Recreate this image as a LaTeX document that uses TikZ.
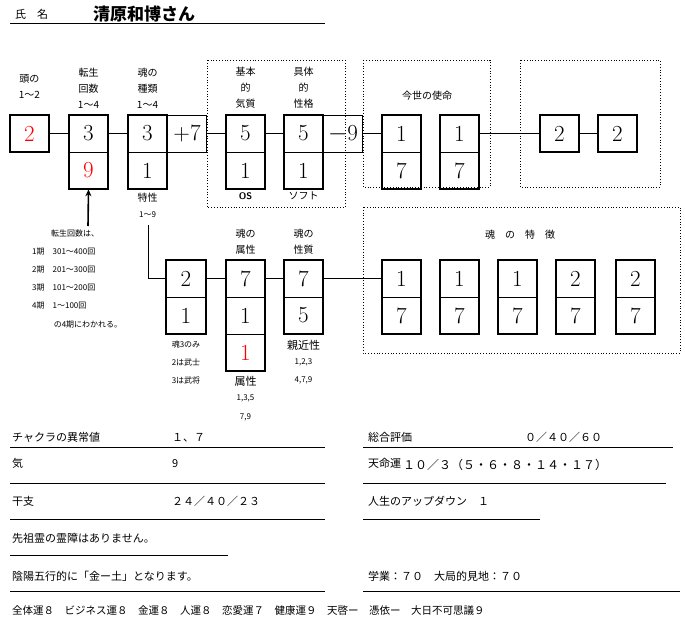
\documentclass[tikz,border=0pt]{standalone}
\usepackage{fontspec}
\newfontfamily\jp{Noto Sans CJK JP}
\usetikzlibrary{arrows.meta}
\begin{document}
\begin{tikzpicture}[x=1pt,y=-1pt,
 cell/.style={draw,line width=0.6pt,minimum width=39pt,minimum height=37pt,inner sep=0pt,font=\fontsize{23}{23}\selectfont},
 outer/.style={line width=1.8pt},
 lbl/.style={font=\jp\fontsize{10}{16}\selectfont,align=center,inner sep=0pt},
 sm/.style={font=\jp\fontsize{8}{10}\selectfont,inner sep=0pt},
 dot/.style={dotted,line width=0.8pt},
 txt/.style={font=\jp\fontsize{11}{12}\selectfont,anchor=base west,inner sep=0pt},
 rule/.style={line width=1pt}]
\useasboundingbox (0,0) rectangle (685,623);
% title
\node[txt] (t1) at (15,19) {氏\quad 名};
\node[txt,font=\jp\bfseries\fontsize{17}{18}\selectfont] (t2) at (93,21) {清原和博さん};
\draw[rule] (10,24) -- (325,24);
% dotted frames
\draw[dot] (207,60) rectangle (345,207);
\draw[dot] (363,60) rectangle (490,187);
\draw[dot] (520,60) rectangle (660,187);
\draw[dot] (363,207) rectangle (680,353);
% row 1
\node[cell] (a1) at (29.5,133.5) {\textcolor{red}{2}};
\node[cell] (b1) at (88.5,133.5) {3};
\node[cell] (b2) at (88.5,170.5) {\textcolor{red}{9}};
\node[cell] (c1) at (147.5,133.5) {3};
\node[cell] (c2) at (147.5,170.5) {1};
\node[cell] (p7) at (187,133.5) {+7};
\node[cell] (d1) at (245.5,133.5) {5};
\node[cell] (d2) at (245.5,170.5) {1};
\node[cell] (e1) at (303.5,133.5) {5};
\node[cell] (e2) at (303.5,170.5) {1};
\node[cell] (m9) at (343,133.5) {$-$9};
\node[cell] (f1) at (401.5,133.5) {1};
\node[cell] (f2) at (401.5,170.5) {7};
\node[cell] (g1) at (459.5,133.5) {1};
\node[cell] (g2) at (459.5,170.5) {7};
\node[cell] (h1) at (559.5,133.5) {2};
\node[cell] (i1) at (617.5,133.5) {2};
\foreach \u/\l in {a1/a1,b1/b2,c1/c2,d1/d2,e1/e2,f1/f2,g1/g2,h1/h1,i1/i1}
  \draw[outer] (\u.north west) rectangle (\l.south east);
\draw (a1) -- (b1); \draw (b1) -- (c1); \draw (p7) -- (d1); \draw (d1) -- (e1);
\draw (m9) -- (f1); \draw (g1) -- (h1); \draw (h1) -- (i1);
% row 2
\node[cell] (r1) at (186,278.5) {2};
\node[cell] (r2) at (186,315.5) {1};
\node[cell] (s1) at (245.5,278.5) {7};
\node[cell] (s2) at (245.5,315.5) {1};
\node[cell] (s3) at (245.5,352.5) {\textcolor{red}{1}};
\node[cell] (q1) at (303.5,278.5) {7};
\node[cell] (q2) at (303.5,315.5) {5};
\foreach \n/\x/\a/\b in {u/401.5/1/7,v/459.5/1/7,w/517.5/1/7,y/575.5/2/7,z/635.5/2/7}{
  \node[cell] (\n1) at (\x,278.5) {\a};
  \node[cell] (\n2) at (\x,315.5) {\b};
  \draw[outer] (\n1.north west) rectangle (\n2.south east);}
\foreach \u/\l in {r1/r2,s1/s3,q1/q2}
  \draw[outer] (\u.north west) rectangle (\l.south east);
\coordinate (k) at (148,225);
\draw (k) |- (r1); \draw (r1) -- (s1); \draw (s1) -- (q1); \draw (q1) -- (u1);
\coordinate (ar) at (88,226);
\draw[line width=1.6pt,-{Stealth[length=7pt,width=6pt]}] (ar) -- (b2.south);
% labels row 1
\node[lbl] (l1) at (29.5,87) {頭の\\1〜2};
\node[lbl] (l2) at (88.5,88) {転生\\回数\\1〜4};
\node[lbl] (l3) at (147.5,88) {魂の\\種類\\1〜4};
\node[lbl] (l4) at (245.5,88) {基本\\的\\気質};
\node[lbl] (l5) at (303.5,88) {具体\\的\\性格};
\node[lbl] (l6) at (427,96) {今世の使命};
\node[lbl] (l7) at (147.5,205) {特性\\{\fontsize{8}{10}\selectfont 1〜9}};
\node[font=\sffamily\bfseries\fontsize{9.5}{10}\selectfont,inner sep=0pt] (os) at (245.5,196) {OS};
\node[lbl] (sf) at (303.5,196) {ソフト};
% row 2 labels
\node[lbl] (l8) at (245.5,242) {魂の\\属性};
\node[lbl] (l9) at (303.5,242) {魂の\\性質};
\node[lbl] (l10) at (520,235) {魂\quad の\quad 特\quad 徴};
\node[sm,align=center,font=\jp\fontsize{8}{18}\selectfont] (l11) at (186,362) {魂3のみ\\2は武士\\3は武将};
\node[lbl,font=\jp\fontsize{11}{16}\selectfont] (l12) at (245.5,381) {属性};
\node[sm,align=center,font=\jp\fontsize{8}{19}\selectfont] (l13) at (245.5,408) {1,3,5\\7,9};
\node[lbl,font=\jp\fontsize{11}{16}\selectfont] (l14) at (303.5,345) {親近性};
\node[sm,align=center,font=\jp\fontsize{8}{18}\selectfont] (l15) at (303.5,371) {1,2,3\\4,7,9};
% reincarnation note
\node[sm] (n0) at (75,233) {転生回数は、};
\node[sm,anchor=west] (n1) at (32,252) {1期\quad 301〜400回};
\node[sm,anchor=west] (n2) at (32,270) {2期\quad 201〜300回};
\node[sm,anchor=west] (n3) at (32,288) {3期\quad 101〜200回};
\node[sm,anchor=west] (n4) at (32,306) {4期\quad 1〜100回};
\node[sm] (n5) at (88,325) {の4期にわかれる。};
% bottom
\node[txt] (b01) at (12,441) {チャクラの異常値};
\node[txt] (b02) at (172,441) {１、７};
\node[txt] (b03) at (368,441) {総合評価};
\node[txt] (b04) at (525,441) {０／４０／６０};
\draw[rule] (10,447) -- (325,447); \draw[rule] (363,447) -- (673,447);
\node[txt] (b05) at (12,467) {気};
\node[txt] (b06) at (172,467) {9};
\node[txt] (b07) at (368,467) {天命運};
\node[txt,font=\jp\fontsize{12}{12}\selectfont] (b08) at (403,469) {１０／３（５・６・８・１４・１７）};
\draw[rule] (10,483) -- (325,483); \draw[rule] (363,483) -- (666,483);
\node[txt] (b09) at (12,505) {干支};
\node[txt] (b10) at (172,505) {２４／４０／２３};
\node[txt] (b11) at (368,505) {人生のアップダウン\quad １};
\draw[rule] (10,519) -- (325,519); \draw[rule] (363,519) -- (540,519);
\node[txt] (b12) at (12,542) {先祖霊の霊障はありません。};
\draw[rule] (10,555) -- (228,555);
\node[txt] (b13) at (12,580) {陰陽五行的に「金ー土」となります。};
\node[txt] (b14) at (368,580) {学業：７０\quad 大局的見地：７０};
\draw[rule] (10,591) -- (325,591); \draw[rule] (363,591) -- (680,591);
\node[txt,font=\jp\fontsize{10.5}{12}\selectfont] (b15) at (12,614) {全体運８\quad ビジネス運８\quad 金運８\quad 人運８\quad 恋愛運７\quad 健康運９\quad 天啓ー\quad 憑依ー\quad 大日不可思議９};
\end{tikzpicture}
\end{document}
